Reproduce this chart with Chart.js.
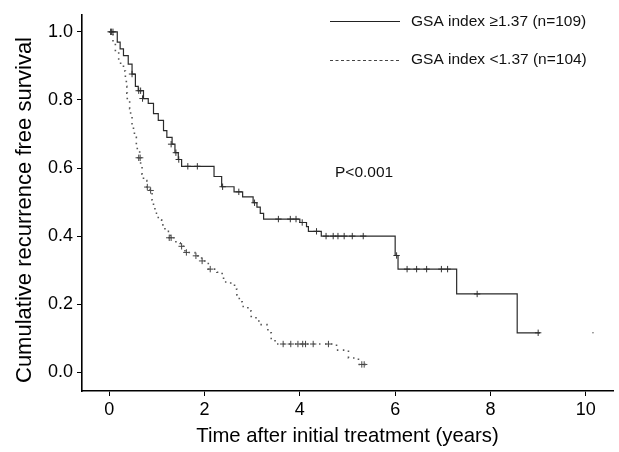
<!DOCTYPE html>
<html><head><meta charset="utf-8">
<script src="https://cdn.jsdelivr.net/npm/chart.js@4.4.1/dist/chart.umd.min.js"></script>
<style>html,body{margin:0;padding:0;background:#fff;}canvas{display:block;}</style>
</head><body>
<canvas id="c" width="619" height="452"></canvas>
<script>
// ---- data ----
const highLabel = "GSA index \u22651.37 (n=109)";
const lowLabel = "GSA index <1.37 (n=104)";
const pText = "P<0.001";
const xTitle = "Time after initial treatment (years)";
const yTitle = "Cumulative recurrence free survival";
const xTicks = [0, 2, 4, 6, 8, 10];
const yTicks = [0.0, 0.2, 0.4, 0.6, 0.8, 1.0];

const highTimes = [0, 0.17, 0.23, 0.30, 0.40, 0.48, 0.55, 0.61, 0.72, 0.82, 0.93, 1.03, 1.14, 1.21, 1.32, 1.38, 1.45, 1.52, 2.20, 2.36, 2.62, 2.80, 3.02, 3.10, 3.17, 3.24, 4.00, 4.14, 4.18, 4.45, 6.00, 6.06, 7.29, 8.56, 9.04];
const highSurv  = [1.0, 0.97, 0.95, 0.93, 0.905, 0.876, 0.84, 0.827, 0.804, 0.79, 0.76, 0.74, 0.71, 0.69, 0.67, 0.645, 0.625, 0.605, 0.575, 0.545, 0.53, 0.515, 0.498, 0.485, 0.467, 0.45, 0.44, 0.428, 0.414, 0.40, 0.343, 0.303, 0.23, 0.116, 0.116];
const highCensT = [0.03, 0.08, 0.48, 0.62, 0.66, 0.70, 1.30, 1.40, 1.46, 1.65, 1.85, 2.38, 2.72, 3.05, 3.55, 3.80, 3.92, 4.05, 4.35, 4.55, 4.70, 4.80, 4.93, 5.10, 5.33, 6.03, 6.25, 6.45, 6.66, 6.97, 7.10, 7.72, 9.00];
const highCensS = [1.0, 1.0, 0.876, 0.827, 0.827, 0.804, 0.67, 0.645, 0.625, 0.605, 0.605, 0.545, 0.53, 0.498, 0.45, 0.45, 0.45, 0.44, 0.414, 0.40, 0.40, 0.40, 0.40, 0.40, 0.40, 0.343, 0.303, 0.303, 0.303, 0.303, 0.303, 0.23, 0.116];
const highLastT = [10.15];
const highLastS = [0.116];

const lowTimes = [0, 0.08, 0.13, 0.20, 0.24, 0.30, 0.34, 0.36, 0.37, 0.38, 0.43, 0.45, 0.48, 0.51, 0.53, 0.57, 0.59, 0.64, 0.66, 0.69, 0.72, 0.79, 0.86, 0.90, 0.93, 0.96, 1.03, 1.10, 1.17, 1.28, 1.40, 1.49, 1.59, 1.80, 1.94, 2.08, 2.26, 2.37, 2.40, 2.55, 2.63, 2.68, 2.73, 2.79, 2.91, 2.98, 3.08, 3.14, 3.31, 3.33, 3.40, 3.48, 4.77, 5.02, 5.23, 5.40];
const lowSurv  = [1.0, 0.97, 0.94, 0.92, 0.904, 0.885, 0.86, 0.84, 0.82, 0.80, 0.774, 0.755, 0.73, 0.71, 0.69, 0.67, 0.65, 0.63, 0.606, 0.582, 0.563, 0.544, 0.534, 0.506, 0.486, 0.467, 0.448, 0.433, 0.414, 0.395, 0.38, 0.37, 0.352, 0.342, 0.327, 0.303, 0.294, 0.286, 0.265, 0.258, 0.244, 0.227, 0.207, 0.193, 0.18, 0.164, 0.155, 0.14, 0.135, 0.116, 0.099, 0.083, 0.065, 0.042, 0.023, 0.023];
const lowCensT = [0.05, 0.62, 0.65, 0.80, 0.87, 1.26, 1.30, 1.52, 1.62, 1.82, 1.95, 2.12, 3.65, 3.81, 3.96, 4.06, 4.12, 4.28, 4.60, 5.30, 5.35];
const lowCensS = [1.0, 0.63, 0.63, 0.544, 0.534, 0.395, 0.395, 0.37, 0.352, 0.342, 0.327, 0.303, 0.083, 0.083, 0.083, 0.083, 0.083, 0.083, 0.083, 0.023, 0.023];

const toPts = (xs, ys) => xs.map((x, i) => ({x: x, y: ys[i]}));
const FONT = '"Liberation Sans", Arial, sans-serif';

const annot = {
  id: 'annot',
  afterDraw(chart) {
    const ctx = chart.ctx;
    ctx.save();
    ctx.font = '15.5px ' + FONT;
    ctx.fillStyle = '#111';
    ctx.textBaseline = 'middle';
    ctx.textAlign = 'left';
    // legend
    ctx.strokeStyle = '#222';
    ctx.lineWidth = 1;
    ctx.beginPath(); ctx.moveTo(330, 21.5); ctx.lineTo(400, 21.5); ctx.stroke();
    ctx.setLineDash([3, 2.5]);
    ctx.strokeStyle = '#444';
    ctx.beginPath(); ctx.moveTo(330, 60.5); ctx.lineTo(400, 60.5); ctx.stroke();
    ctx.setLineDash([]);
    ctx.fillText(highLabel, 411, 22);
    ctx.fillText(lowLabel, 411, 60);
    ctx.fillText(pText, 335, 173);
    // y axis title
    ctx.fillStyle = '#000';
    ctx.font = '22px ' + FONT;
    ctx.translate(25, 210);
    ctx.rotate(-Math.PI / 2);
    ctx.textAlign = 'center';
    ctx.fillText(yTitle, 0, 0);
    ctx.restore();
  }
};

new Chart(document.getElementById('c'), {
  type: 'line',
  data: {
    datasets: [
      { data: toPts(highTimes, highSurv), stepped: 'before', borderColor: '#2a2a2a', borderWidth: 1.2, pointRadius: 0, fill: false },
      { data: toPts(lowTimes, lowSurv), stepped: 'before', borderColor: '#555', borderWidth: 1.6, borderDash: [1.5, 4.5], pointRadius: 0, fill: false },
      { type: 'scatter', data: toPts(highCensT, highCensS), pointStyle: 'cross', pointRadius: 3.2, borderColor: '#333', borderWidth: 1, showLine: false },
      { type: 'scatter', data: toPts(lowCensT, lowCensS), pointStyle: 'cross', pointRadius: 3.2, borderColor: '#444', borderWidth: 1, showLine: false },
      { type: 'scatter', data: toPts(highLastT, highLastS), pointStyle: 'circle', pointRadius: 0.8, backgroundColor: '#666', borderColor: '#666', borderWidth: 0, showLine: false }
    ]
  },
  options: {
    responsive: false,
    devicePixelRatio: 1,
    animation: false,
    layout: { padding: { top: 8, right: 6, left: 0, bottom: 0 } },
    plugins: { legend: { display: false }, tooltip: { enabled: false } },
    scales: {
      x: {
        type: 'linear', min: -0.57, max: 10.57,
        afterBuildTicks: (s) => { s.ticks = xTicks.map(v => ({value: v})); },
        afterFit: (s) => { s.height = 61; },
        border: { display: true, color: '#000', width: 1.6 },
        grid: { display: true, drawOnChartArea: false, drawTicks: true, tickLength: 5, color: '#000', lineWidth: 1 },
        ticks: { color: '#000', padding: 3, maxRotation: 0, font: { family: FONT, size: 18 } },
        title: { display: true, text: xTitle, color: '#000', padding: { top: 0, bottom: 3 }, font: { family: FONT, size: 20.3 } }
      },
      y: {
        type: 'linear', min: -0.055, max: 1.05,
        afterBuildTicks: (s) => { s.ticks = yTicks.map(v => ({value: v})); },
        afterFit: (s) => { s.width = 82; },
        border: { display: true, color: '#000', width: 1.6 },
        grid: { display: true, drawOnChartArea: false, drawTicks: true, tickLength: 5, color: '#000', lineWidth: 1 },
        ticks: { color: '#000', padding: 4, callback: (v) => v.toFixed(1), font: { family: FONT, size: 18 } },
        title: { display: false }
      }
    }
  },
  plugins: [annot]
});
</script>
</body></html>
